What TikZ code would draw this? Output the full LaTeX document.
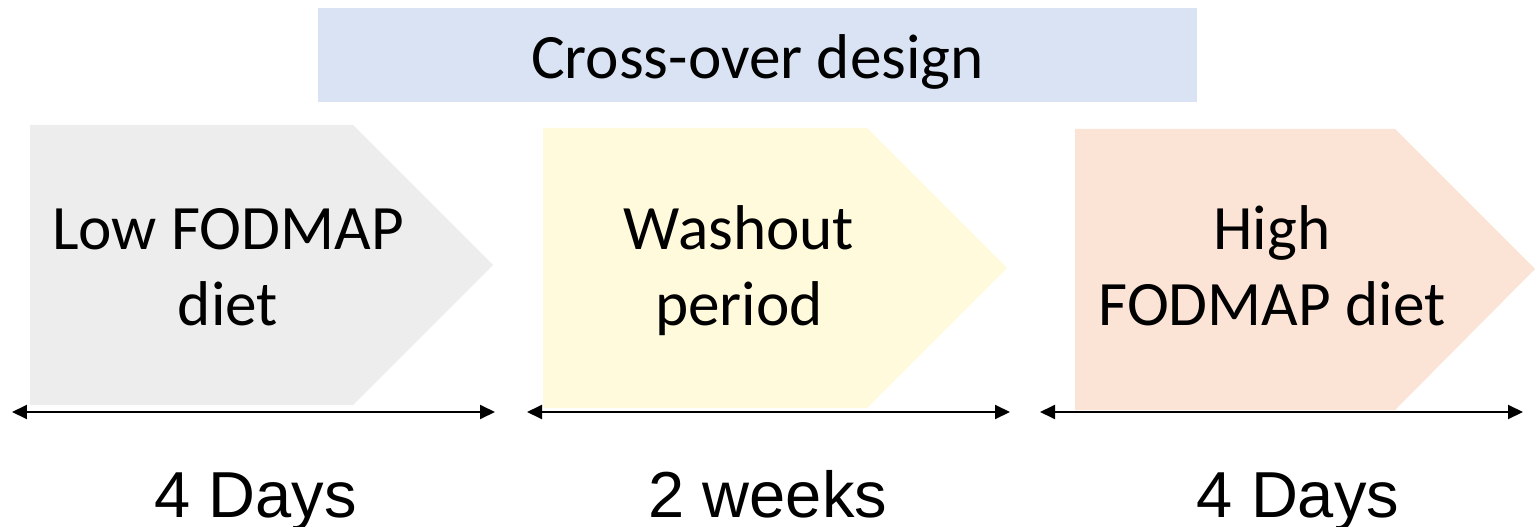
\documentclass[tikz,border=0pt]{standalone}
\usepackage{fontspec}
\setmainfont{Carlito}
\newfontfamily\arialfont{Liberation Sans}
\usetikzlibrary{arrows.meta}
\definecolor{headblue}{HTML}{DAE3F3}
\definecolor{lowgray}{HTML}{EDEDED}
\definecolor{washyellow}{HTML}{FFFADC}
\definecolor{highpeach}{HTML}{FBE3D6}
\tikzstyle{heading}=[fill=headblue, minimum width=17.58cm, inner xsep=0pt, inner ysep=0pt, text height=1.42cm, text depth=0.46cm, font=\fontsize{36}{43}\selectfont]
\tikzstyle{phasetext}=[align=center, inner sep=0pt, anchor=base, font=\fontsize{36}{42.7}\selectfont]
\tikzstyle{span}=[{Triangle[length=0.3cm, width=0.28cm]}-{Triangle[length=0.3cm, width=0.28cm]}, line width=1.1pt]
\tikzstyle{duration}=[anchor=base, inner sep=0pt, font=\arialfont\fontsize{37}{44}\selectfont]

\begin{document}
\begin{tikzpicture}[x=0.02cm, y=-0.02cm]
    \useasboundingbox (0,0) rectangle (1535,527);

    \node [heading] (title) at (757.5, 55) {Cross-over design};

    % the three phases
    \fill [lowgray] (30,125) -- (353,125) -- (493,265) -- (353,405) -- (30,405) -- cycle;
    \fill [washyellow] (543,128) -- (867,128) -- (1007,268) -- (867,408) -- (543,408) -- cycle;
    \fill [highpeach] (1075,129) -- (1395,129) -- (1535,269) -- (1395,410) -- (1075,410) -- cycle;

    \node [phasetext] (low) at (228, 325) {Low FODMAP\\diet};
    \node [phasetext] (washout) at (739, 325) {Washout\\period};
    \node [phasetext] (high) at (1272, 325) {High\\FODMAP diet};

    % durations
    \coordinate (s1) at (12, 412);
    \coordinate (e1) at (495, 412);
    \coordinate (s2) at (527, 412);
    \coordinate (e2) at (1010, 412);
    \coordinate (s3) at (1040, 412);
    \coordinate (e3) at (1523, 412);
    \draw [span] (s1) -- (e1);
    \draw [span] (s2) -- (e2);
    \draw [span] (s3) -- (e3);

    \node [duration] (d1) at (255.5, 517) {4 Days};
    \node [duration] (d2) at (768, 517) {2 weeks};
    \node [duration] (d3) at (1298, 517) {4 Days};
\end{tikzpicture}
\end{document}
